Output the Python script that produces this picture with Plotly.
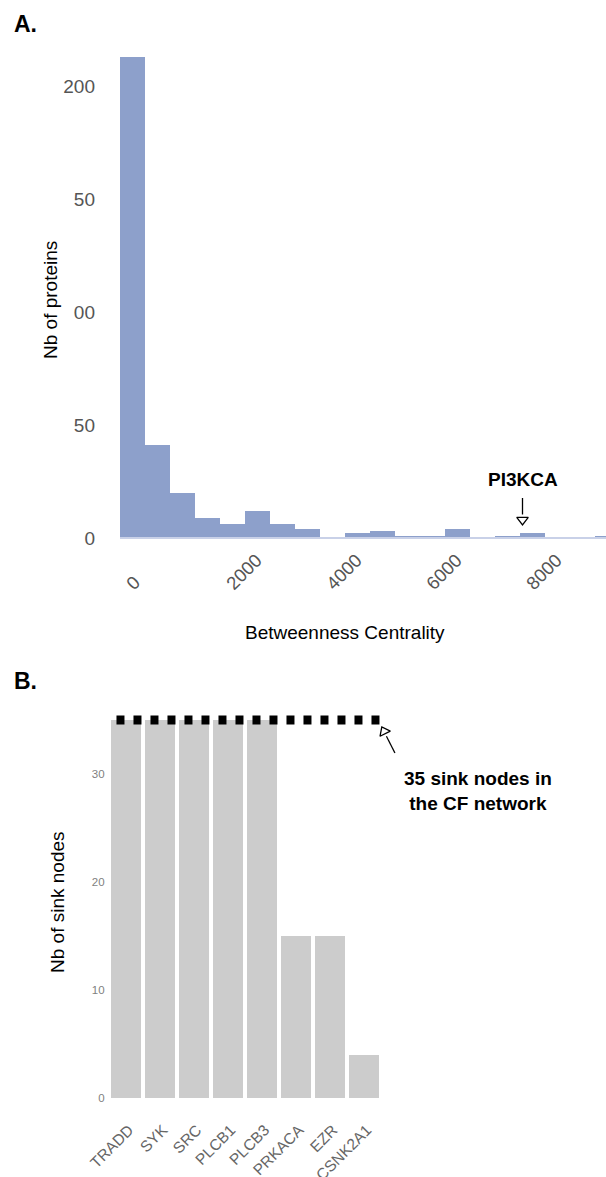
import plotly.graph_objects as go

# ---------------- data ----------------
# Panel A: histogram of betweenness centrality (bin width 500)
bin_centers = [0, 500, 1000, 1500, 2000, 2500, 3000, 3500, 4000, 4500,
               5000, 5500, 6000, 6500, 7000, 7500, 8000, 8500, 9000, 9500]
bin_counts = [213, 41, 20, 9, 6, 12, 6, 4, 0, 2, 3, 1, 1, 4, 0, 1, 2, 0, 0, 1]
bin_width = 500
a_xticks = [0, 2000, 4000, 6000, 8000]
a_xticktext = ["0\u2007\u2007\u2007", "2000", "4000", "6000", "8000"]
a_yticks = [0, 50, 100, 150, 200]
a_yticktext = ["0", "50", "00", "50", "200"]
pi3kca_value = 7800

# Panel B: number of sink nodes reached
genes = ["TRADD", "SYK", "SRC", "PLCB1", "PLCB3", "PRKACA", "EZR", "CSNK2A1"]
sink_nodes = [35, 35, 35, 35, 35, 15, 15, 4]
total_sinks = 35
b_yticks = [0, 10, 20, 30]

W, H = 606, 1177
FONT = "Liberation Sans, Arial, Helvetica, sans-serif"


def px_x(p):
    return p / W


def px_y(p):
    return 1 - p / H


fig = go.Figure()

# ---- Panel A ----
edge_lo = bin_centers[0] - bin_width / 2
edge_hi = bin_centers[-1] + bin_width / 2
fig.add_trace(go.Scatter(x=[edge_lo, edge_hi], y=[0, 0], mode="lines",
                         line=dict(color="#c9d1e8", width=2),
                         xaxis="x", yaxis="y", hoverinfo="skip", showlegend=False))
fig.add_trace(go.Bar(x=bin_centers, y=bin_counts, width=bin_width,
                     marker=dict(color="#8da0cb", line=dict(width=0)),
                     xaxis="x", yaxis="y", showlegend=False))
# PI3KCA arrow
fig.add_trace(go.Scatter(x=[pi3kca_value, pi3kca_value], y=[17.7, 10.4], mode="lines",
                         line=dict(color="black", width=1.3),
                         xaxis="x", yaxis="y", hoverinfo="skip", showlegend=False))
fig.add_trace(go.Scatter(x=[pi3kca_value], y=[8.0], mode="markers",
                         marker=dict(symbol="triangle-down-open", size=10,
                                     color="black", line=dict(width=1.3, color="black")),
                         xaxis="x", yaxis="y", hoverinfo="skip", showlegend=False))

# ---- Panel B ----
xb = list(range(len(genes)))
fig.add_trace(go.Bar(x=xb, y=sink_nodes, width=0.88,
                     marker=dict(color="#cccccc", line=dict(width=0)),
                     xaxis="x2", yaxis="y2", showlegend=False))
fig.add_trace(go.Scatter(x=[-0.28, 7.6], y=[total_sinks, total_sinks], mode="lines",
                         line=dict(color="black", width=9, dash="8px,9px"),
                         xaxis="x2", yaxis="y2", hoverinfo="skip", showlegend=False))
fig.add_trace(go.Scatter(x=[7.91, 7.66], y=[31.94, 33.5], mode="lines",
                         line=dict(color="black", width=1.3),
                         xaxis="x2", yaxis="y2", hoverinfo="skip", showlegend=False))
fig.add_trace(go.Scatter(x=[7.59], y=[33.94], mode="markers",
                         marker=dict(symbol="triangle-up-open", size=10, angle=-26.6,
                                     color="black", line=dict(width=1.3, color="black")),
                         xaxis="x2", yaxis="y2", hoverinfo="skip", showlegend=False))

axis_common = dict(showgrid=False, zeroline=False, showline=False, ticks="",
                   automargin=False)

fig.update_layout(
    template="none",
    width=W, height=H,
    margin=dict(l=0, r=0, t=0, b=0, pad=0, autoexpand=False),
    paper_bgcolor="white", plot_bgcolor="white",
    font=dict(family=FONT, color="black"),
    bargap=0,
    xaxis=dict(domain=[px_x(100), 1], range=[-650, 9470], anchor="y",
               tickvals=a_xticks, ticktext=a_xticktext, tickangle=-45,
               tickfont=dict(size=18.5, color="#555555"),
               ticklabelshift=24, ticklabelstandoff=5, **axis_common),
    yaxis=dict(domain=[px_y(540), px_y(45)], range=[-0.885, 218.1], anchor="x",
               tickvals=a_yticks, ticktext=a_yticktext, ticklabelstandoff=4,
               tickfont=dict(size=19, color="#555555"), **axis_common),
    xaxis2=dict(domain=[px_x(105.6), 1], range=[-0.6, 14.118], anchor="y2",
                tickvals=xb, ticktext=genes, tickangle=-45,
                ticklabelshift=3, ticklabelstandoff=18,
                tickfont=dict(size=15.5, color="#666666"), **axis_common),
    yaxis2=dict(domain=[px_y(1099), px_y(701)], range=[-0.093, 36.76], anchor="x2",
                tickvals=b_yticks, tickfont=dict(size=11.5, color="#7f7f7f"),
                **axis_common),
)

ann = [
    dict(text="<b>A.</b>", x=px_x(12), y=px_y(24), xanchor="left", yanchor="middle",
         font=dict(size=23)),
    dict(text="Nb of proteins", x=px_x(50), y=px_y(300), textangle=-90,
         xanchor="center", yanchor="middle", font=dict(size=19)),
    dict(text="Betweenness Centrality", x=px_x(345), y=px_y(632),
         xanchor="center", yanchor="middle", font=dict(size=19)),
    dict(text="<b>PI3KCA</b>", x=px_x(523), y=px_y(479),
         xanchor="center", yanchor="middle", font=dict(size=19)),
    dict(text="<b>B.</b>", x=px_x(12), y=px_y(681), xanchor="left", yanchor="middle",
         font=dict(size=23)),
    dict(text="Nb of sink nodes", x=px_x(57), y=px_y(902), textangle=-90,
         xanchor="center", yanchor="middle", font=dict(size=19)),
    dict(text="<b>35 sink nodes in<br>the CF network</b>", x=px_x(478), y=px_y(791),
         xanchor="center", yanchor="middle", font=dict(size=19)),
]
for a in ann:
    a.update(xref="paper", yref="paper", showarrow=False)
fig.update_layout(annotations=ann)

fig.write_html("out.html")
